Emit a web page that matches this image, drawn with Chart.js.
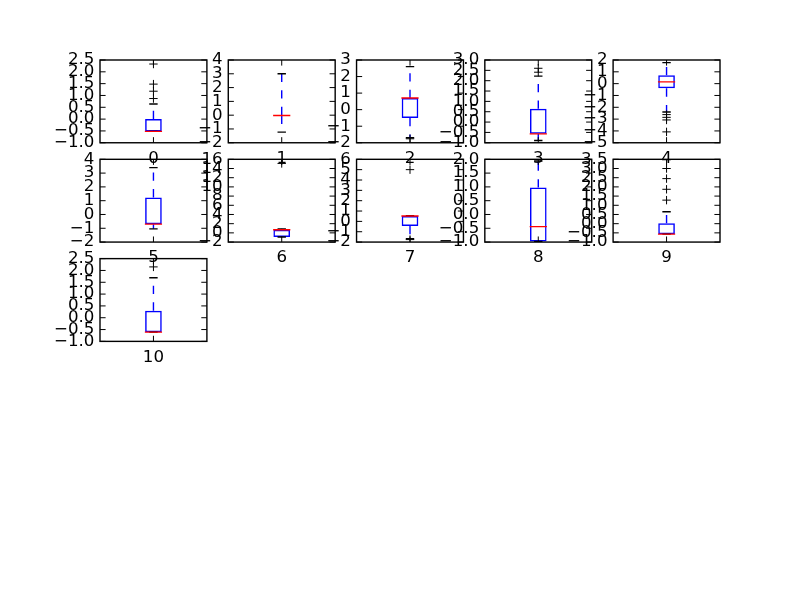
<!DOCTYPE html>
<html><head><meta charset="utf-8">
<script src="https://cdn.jsdelivr.net/npm/chart.js@4.4.0/dist/chart.umd.min.js"></script>
<style>
html,body{margin:0;padding:0;background:#fff;}
#wrap{position:relative;width:800px;height:600px;overflow:hidden;background:#fff;}
#wrap canvas{position:absolute;left:0;top:0;}
</style></head><body><div id="wrap"></div>
<script>
// ---- data ----
const categories   = ['0','1','2','3','4','5','6','7','8','9','10'];
const q1           = [-0.52, -0.04, -0.50, -0.57, -0.40, -0.70, -0.90, -0.44, -0.98, -0.57, -0.61];
const medians      = [-0.52, -0.02,  0.70, -0.57,  0.15, -0.70,  0.67,  0.52, -0.44, -0.57, -0.61];
const q3           = [ 0.00,  0.00,  0.70,  0.64,  0.70,  1.24,  0.67,  0.52,  0.98,  0.02,  0.30];
const whiskerLow   = [-0.52, -1.23, -1.70, -0.89, -2.40, -1.04, -0.90, -1.68, -0.98, -0.57, -0.61];
const whiskerHigh  = [ 0.64,  3.00,  2.60,  2.22,  1.78,  3.40,  0.88,  0.56,  1.94,  0.65,  1.69];
const fliers       = [
  [0.87, 1.18, 1.48, 2.33],
  [],
  [-1.76],
  [2.41, 2.60],
  [-2.62, -2.85, -3.07, -4.08],
  [],
  [15.1],
  [-1.76, 5.0],
  [],
  [1.28, 1.87, 2.45, 3.0],
  [2.15]
];
const yMin  = [-1.0, -2, -2, -1.0, -5, -2, -2, -2, -1.0, -1.0, -1.0];
const yMax  = [ 2.5,  4,  3,  3.0,  2,  4, 16,  6,  2.0,  3.5,  2.5];
const yStep = [ 0.5,  1,  1,  0.5,  1,  1,  2,  1,  0.5,  0.5,  0.5];

// ---- layout (matplotlib-like subplot grid 5x5) ----
const NCOL = 5;
const W = 620 / 5.8, H = 480 / 5.8;
const FONT = {family: 'DejaVu Sans', size: 16.67};
const BLUE = '#0000ff', RED = '#ff0000';
const TICK = 5.6;

const framePlugin = {
  id: 'frame',
  afterDatasetsDraw(chart) {
    const {ctx, chartArea: a, scales: {x, y}} = chart;
    ctx.save();
    ctx.strokeStyle = '#000';
    ctx.lineWidth = 1;
    ctx.beginPath();
    y.ticks.forEach(t => {
      const py = y.getPixelForValue(t.value);
      ctx.moveTo(a.left, py); ctx.lineTo(a.left + TICK, py);
      ctx.moveTo(a.right, py); ctx.lineTo(a.right - TICK, py);
    });
    const px = x.getPixelForValue(0);
    ctx.moveTo(px, a.top); ctx.lineTo(px, a.top + TICK);
    ctx.moveTo(px, a.bottom); ctx.lineTo(px, a.bottom - TICK);
    ctx.stroke();
    ctx.lineWidth = 1.4;
    ctx.strokeRect(a.left, a.top, a.width, a.height);
    ctx.restore();
  }
};

function fmt(i) {
  const dec = yStep[i] < 1 ? 1 : 0;
  return (v) => {
    const r = Math.round(v / yStep[i]) * yStep[i];
    let s = Math.abs(r).toFixed(dec);
    return (r < -1e-9 ? '\u2212' : '') + s;
  };
}

const wrap = document.getElementById('wrap');
categories.forEach((cat, i) => {
  const col = i % NCOL, row = Math.floor(i / NCOL);
  const L = 100 + col * W * 1.2;
  const T = 60 + row * H * 1.2;
  const cv = document.createElement('canvas');
  cv.width = 800; cv.height = 600;
  cv.style.width = '800px'; cv.style.height = '600px';
  wrap.appendChild(cv);
  const YW = 60, XH = 40;
  const pts = (arr) => arr.map(v => ({x: cat, y: v}));
  new Chart(cv, {
    type: 'bar',
    data: {
      labels: [cat],
      datasets: [
        { type: 'bar', data: [[q1[i], q3[i]]], backgroundColor: 'rgba(0,0,0,0)',
          borderColor: BLUE, borderWidth: 1.5, borderSkipped: false,
          barPercentage: 0.156, categoryPercentage: 1, order: 5 },
        { type: 'line', data: pts([q3[i], whiskerHigh[i]]), borderColor: BLUE, borderWidth: 1.4,
          borderDash: [8.3, 8.3], pointRadius: 0, fill: false, order: 4 },
        { type: 'line', data: pts([q1[i], whiskerLow[i]]), borderColor: BLUE, borderWidth: 1.4,
          borderDash: [8.3, 8.3], pointRadius: 0, fill: false, order: 4 },
        { type: 'line', data: pts([whiskerLow[i], whiskerHigh[i]]), showLine: false,
          pointStyle: 'line', pointRadius: 4.2, pointBorderColor: '#000', pointBorderWidth: 1.4, order: 3 },
        { type: 'line', data: pts([medians[i]]), showLine: false,
          pointStyle: 'line', pointRadius: 8.6, pointBorderColor: RED, pointBorderWidth: 1.4, order: 2 },
        { type: 'line', data: pts(fliers[i]), showLine: false,
          pointStyle: 'cross', pointRadius: 4.2, pointBorderColor: '#000', pointBorderWidth: 1, order: 1 }
      ]
    },
    options: {
      responsive: false, animation: false, devicePixelRatio: 1, events: [],
      layout: { padding: { left: L - YW, top: T, right: 800 - L - W, bottom: 600 - T - H - XH } },
      plugins: { legend: { display: false }, tooltip: { enabled: false } },
      scales: {
        x: {
          type: 'category', offset: true,
          grid: { display: false, drawTicks: false }, border: { display: false },
          ticks: { font: FONT, color: '#000', padding: 6, autoSkip: false, maxRotation: 0 },
          afterFit: (s) => { s.height = XH; }
        },
        y: {
          type: 'linear', min: yMin[i], max: yMax[i],
          grid: { display: false, drawTicks: false }, border: { display: false },
          ticks: { stepSize: yStep[i], font: FONT, color: '#000', padding: 5.6, autoSkip: false,
                   callback: fmt(i) },
          afterFit: (s) => { s.width = YW; }
        }
      }
    },
    plugins: [framePlugin]
  });
});
</script></body></html>
